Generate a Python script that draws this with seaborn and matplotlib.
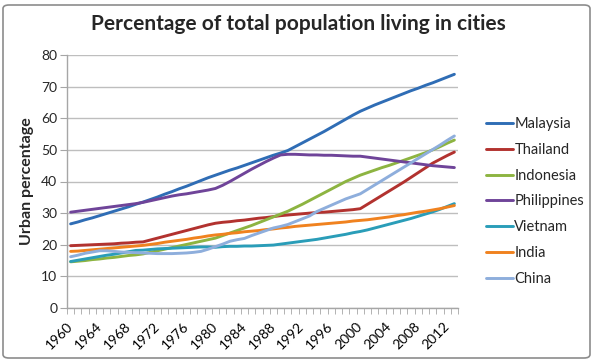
import numpy as np
import pandas as pd
import matplotlib
matplotlib.use("Agg")
import matplotlib.pyplot as plt
import seaborn as sns
from matplotlib.patches import FancyBboxPatch

years = list(range(1960, 2014))

malaysia = [26.6, 27.2, 27.9, 28.5, 29.2, 29.9, 30.6, 31.3, 32.0, 32.8,
            33.5, 34.3, 35.1, 36.0, 36.8, 37.7, 38.5, 39.4, 40.3, 41.2,
            42.0, 42.8, 43.6, 44.3, 45.1, 45.9, 46.7, 47.5, 48.3, 49.0,
            49.8, 51.0, 52.2, 53.4, 54.6, 55.8, 57.1, 58.4, 59.7, 61.0,
            62.2, 63.2, 64.2, 65.1, 66.0, 66.9, 67.8, 68.7, 69.5, 70.4,
            71.2, 72.1, 73.0, 73.9]
thailand = [19.7, 19.8, 19.9, 20.0, 20.1, 20.2, 20.3, 20.5, 20.6, 20.8,
            20.9, 21.5, 22.1, 22.7, 23.3, 23.9, 24.5, 25.1, 25.7, 26.3,
            26.8, 27.1, 27.3, 27.6, 27.8, 28.1, 28.4, 28.6, 28.9, 29.2,
            29.4, 29.6, 29.8, 30.0, 30.2, 30.3, 30.5, 30.7, 30.9, 31.1,
            31.4, 32.8, 34.2, 35.6, 37.0, 38.4, 39.8, 41.3, 42.8, 44.3,
            45.8, 47.0, 48.2, 49.3]
indonesia = [14.6, 14.8, 15.0, 15.3, 15.5, 15.8, 16.0, 16.3, 16.6, 16.8,
             17.1, 17.6, 18.1, 18.6, 19.1, 19.6, 20.1, 20.6, 21.1, 21.6,
             22.1, 22.9, 23.7, 24.5, 25.3, 26.1, 27.0, 27.9, 28.8, 29.7,
             30.6, 31.7, 32.8, 34.0, 35.2, 36.4, 37.6, 38.8, 40.0, 41.0,
             42.0, 42.8, 43.6, 44.4, 45.1, 45.9, 46.7, 47.5, 48.3, 49.1,
             50.0, 51.0, 52.1, 53.1]
philippines = [30.3, 30.6, 30.9, 31.2, 31.5, 31.8, 32.1, 32.4, 32.7, 33.0,
               33.4, 33.9, 34.4, 34.9, 35.4, 35.8, 36.1, 36.5, 36.9, 37.3,
               37.8, 38.8, 40.0, 41.3, 42.6, 43.9, 45.1, 46.3, 47.4, 48.4,
               48.6, 48.6, 48.5, 48.4, 48.4, 48.3, 48.3, 48.2, 48.1, 48.0,
               48.0, 47.7, 47.4, 47.1, 46.8, 46.5, 46.2, 45.9, 45.6, 45.3,
               45.0, 44.8, 44.6, 44.4]
vietnam = [14.7, 15.1, 15.5, 15.9, 16.3, 16.7, 17.0, 17.4, 17.8, 18.2,
           18.3, 18.5, 18.7, 18.8, 18.9, 19.0, 19.1, 19.2, 19.3, 19.3,
           19.2, 19.4, 19.5, 19.5, 19.6, 19.6, 19.7, 19.8, 19.9, 20.2,
           20.5, 20.8, 21.1, 21.4, 21.7, 22.1, 22.5, 22.9, 23.3, 23.8,
           24.2, 24.7, 25.3, 25.9, 26.5, 27.1, 27.7, 28.3, 29.0, 29.7,
           30.4, 31.2, 32.1, 33.0]
india = [17.9, 18.0, 18.2, 18.4, 18.6, 18.8, 19.0, 19.2, 19.4, 19.6,
         19.8, 20.1, 20.4, 20.8, 21.1, 21.4, 21.7, 22.1, 22.4, 22.8,
         23.1, 23.3, 23.6, 23.8, 24.1, 24.3, 24.5, 24.8, 25.0, 25.3,
         25.5, 25.8, 26.0, 26.2, 26.4, 26.6, 26.8, 27.0, 27.2, 27.5,
         27.7, 27.9, 28.2, 28.5, 28.8, 29.2, 29.5, 29.9, 30.3, 30.6,
         31.0, 31.4, 31.9, 32.4]
china = [16.2, 16.7, 17.3, 17.7, 18.1, 18.1, 17.9, 17.7, 17.6, 17.5,
         17.4, 17.3, 17.2, 17.2, 17.2, 17.3, 17.4, 17.6, 17.9, 18.6,
         19.4, 20.2, 21.1, 21.6, 22.0, 22.9, 23.7, 24.5, 25.3, 25.8,
         26.4, 27.3, 28.2, 29.1, 30.5, 31.5, 32.5, 33.5, 34.5, 35.3,
         36.1, 37.5, 38.9, 40.3, 41.7, 43.1, 44.5, 45.9, 47.3, 48.7,
         50.1, 51.5, 53.0, 54.4]

countries = ["Malaysia", "Thailand", "Indonesia", "Philippines", "Vietnam", "India", "China"]
series = [malaysia, thailand, indonesia, philippines, vietnam, india, china]
colors = ["#2F6DB5", "#B2322F", "#8DB441", "#6F4499", "#2A9DB8", "#F0821F", "#8EAEDC"]

df = pd.DataFrame({
    "year": np.tile(years, len(countries)),
    "value": np.concatenate(series),
    "country": np.repeat(countries, len(years)),
})

sns.set_style("white")
plt.rcParams["font.family"] = ["Lato", "DejaVu Sans"]

fig = plt.figure(figsize=(5.95, 3.63), dpi=100)
ax = fig.add_axes([67 / 595, 1 - 308 / 363, (458 - 67) / 595, (308 - 55) / 363])

sns.lineplot(data=df, x="year", y="value", hue="country", hue_order=countries,
             palette=colors, linewidth=2.1, ax=ax, legend=True)

ax.set_xlim(1959.5, 2013.5)
ax.set_ylim(0, 80)
ax.set_yticks(range(0, 81, 10))
ax.yaxis.grid(True, color="#BEBEBE", linewidth=1.0)
ax.set_axisbelow(True)
for s in ["top", "right"]:
    ax.spines[s].set_visible(False)
for s in ["left", "bottom"]:
    ax.spines[s].set_color("#A6A6A6")
    ax.spines[s].set_linewidth(1.0)

label_years = list(range(1960, 2013, 4))
ax.set_xticks(label_years)
ax.set_xticklabels([str(y) for y in label_years], rotation=45, ha="right",
                   va="center", rotation_mode="anchor", fontsize=10)
ax.set_xticks(np.arange(1959.5, 2014, 1.0), minor=True)
ax.tick_params(axis="x", which="major", length=0, pad=12, colors="#000000")
ax.tick_params(axis="x", which="minor", length=4, color="#A6A6A6", direction="out", bottom=True)
ax.tick_params(axis="y", length=5, color="#A6A6A6", direction="out", left=True, labelsize=10, pad=2)

ax.set_xlabel("")
ax.set_ylabel("Urban percentage", fontsize=11.5, fontweight="bold", labelpad=5)

handles, labels = ax.get_legend_handles_labels()
ax.legend(handles, labels, loc="center left", bbox_to_anchor=(479 / 595, 1 - 201.5 / 363),
          bbox_transform=fig.transFigure, frameon=False, fontsize=10.5,
          handlelength=1.85, handletextpad=0.08, labelspacing=0.81, borderpad=0)

fig.suptitle("Percentage of total population living in cities", x=0.502, y=1 - 24 / 363,
             va="center", fontsize=15, fontweight="bold")

border = FancyBboxPatch((3 / 595, 5 / 363), 587 / 595, 353 / 363,
                        boxstyle="round,pad=0,rounding_size=0.01",
                        transform=fig.transFigure, fill=False,
                        edgecolor="#8C8C8C", linewidth=1.2)
fig.patches.append(border)

fig.savefig("out.png", dpi=100)
